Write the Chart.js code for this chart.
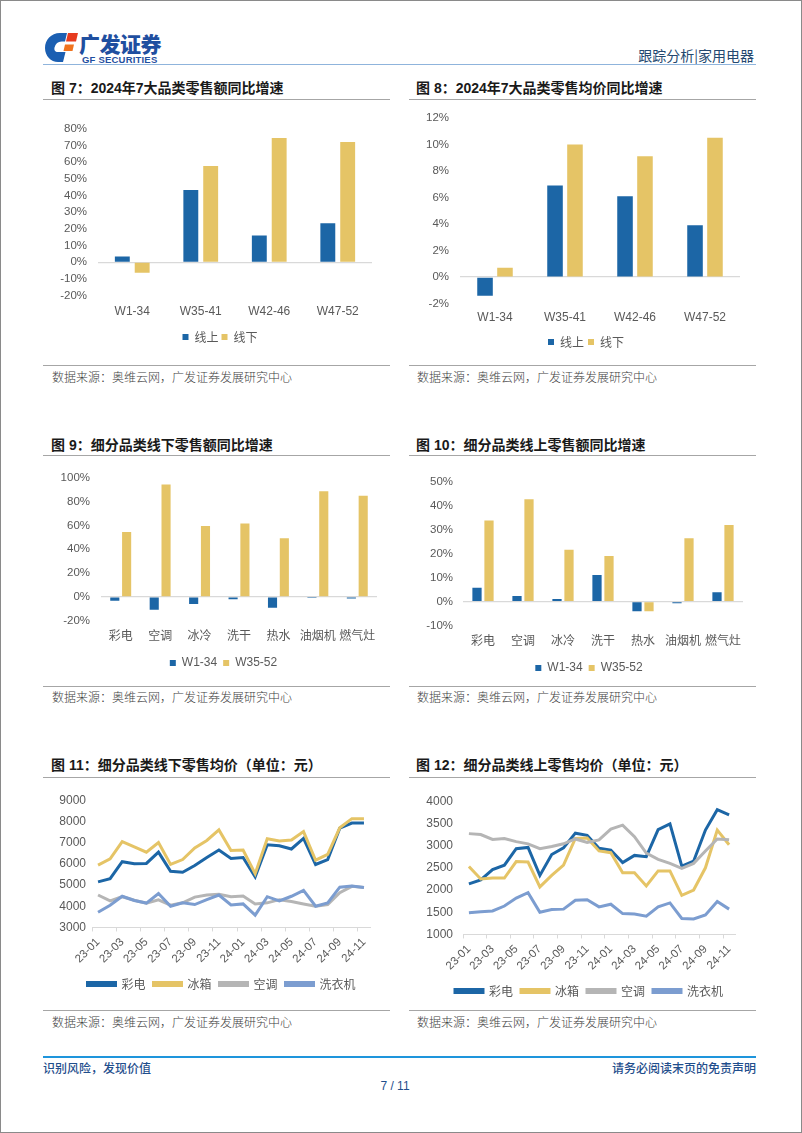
<!DOCTYPE html>
<html><head><meta charset="utf-8">
<script src="https://cdn.jsdelivr.net/npm/chart.js@4.4.1/dist/chart.umd.min.js"></script>
<style>
html,body{margin:0;padding:0;background:#fff;}
body{width:802px;height:1133px;position:relative;overflow:hidden;font-family:"Noto Sans CJK SC","Noto Sans",sans-serif;}
.frame{position:absolute;left:0;top:0;width:800px;height:1131px;border:1px solid #8a8a8a;}
.title{position:absolute;font-size:14px;line-height:20px;font-weight:700;color:#1a1a1a;white-space:nowrap;font-family:"Liberation Sans Narrow","Liberation Sans","Noto Sans CJK SC",sans-serif;}
.hr{position:absolute;height:0;border-top:1.5px solid #a6a6a6;}
.src{position:absolute;font-size:12px;line-height:16px;color:#404040;white-space:nowrap;font-weight:300;}
.box{position:absolute;}
.box canvas{display:block;}
</style></head>
<body>
<div class="frame"></div>

<!-- header -->
<svg style="position:absolute;left:43px;top:31px" width="36" height="33" viewBox="0 0 36 33">
  <path d="M17 2 C8 2 2 9 2 17 C2 25 8 31 15 31 L20 31 L22.5 21 L15 21 C12 21 11 19 11.5 16.5 C12.5 12.5 15 10.5 18.5 10.5 L22 10.5 L24 2 Z" fill="#1b5fb2"/>
  <path d="M25 2 L35 2 L33 10.5 L23 10.5 Z" fill="#e63b1f"/>
  <path d="M22 13.5 L31 13.5 L29.5 20 L20.5 20 Z" fill="#f0731e"/>
</svg>
<div style="position:absolute;left:79px;top:31px;font-size:21px;line-height:25px;font-weight:900;color:#1f4fa0;letter-spacing:-0.5px;">广发证券</div>
<div style="position:absolute;left:82px;top:54px;font-size:9.5px;line-height:11px;font-weight:700;color:#1f4fa0;font-family:'Liberation Sans',sans-serif;letter-spacing:0.2px;">GF SECURITIES</div>
<div style="position:absolute;right:48px;top:45px;font-size:14px;line-height:20px;color:#24486f;">跟踪分析|家用电器</div>
<div class="hr" style="left:43px;top:64px;width:713px;border-top:1px solid #8fb4dc;"></div>

<!-- row 1 -->
<div class="title" style="left:51px;top:78px;">图 7：2024年7大品类零售额同比增速</div>
<div class="title" style="left:416px;top:78px;">图 8：2024年7大品类零售均价同比增速</div>
<div class="hr" style="left:43px;top:99px;width:347px;"></div>
<div class="hr" style="left:409px;top:99px;width:347px;"></div>
<div class="box" style="left:45px;top:111px;width:345px;height:242px;"><canvas id="c7"></canvas></div>
<div class="box" style="left:410px;top:100px;width:345px;height:258px;"><canvas id="c8"></canvas></div>
<div class="hr" style="left:43px;top:365px;width:347px;"></div>
<div class="hr" style="left:409px;top:365px;width:347px;"></div>
<div class="src" style="left:52px;top:369px;">数据来源：奥维云网，广发证券发展研究中心</div>
<div class="src" style="left:417px;top:369px;">数据来源：奥维云网，广发证券发展研究中心</div>

<!-- row 2 -->
<div class="title" style="left:51px;top:435px;">图 9：细分品类线下零售额同比增速</div>
<div class="title" style="left:416px;top:435px;">图 10：细分品类线上零售额同比增速</div>
<div class="hr" style="left:43px;top:455px;width:347px;"></div>
<div class="hr" style="left:409px;top:455px;width:347px;"></div>
<div class="box" style="left:45px;top:460px;width:345px;height:219px;"><canvas id="c9"></canvas></div>
<div class="box" style="left:410px;top:465px;width:345px;height:219px;"><canvas id="c10"></canvas></div>
<div class="hr" style="left:43px;top:686px;width:347px;"></div>
<div class="hr" style="left:409px;top:686px;width:347px;"></div>
<div class="src" style="left:52px;top:689px;">数据来源：奥维云网，广发证券发展研究中心</div>
<div class="src" style="left:417px;top:689px;">数据来源：奥维云网，广发证券发展研究中心</div>

<!-- row 3 -->
<div class="title" style="left:51px;top:755px;">图 11：细分品类线下零售均价（单位：元）</div>
<div class="title" style="left:416px;top:755px;">图 12：细分品类线上零售均价（单位：元）</div>
<div class="hr" style="left:43px;top:777px;width:347px;"></div>
<div class="hr" style="left:409px;top:777px;width:347px;"></div>
<div class="box" style="left:45px;top:787px;width:345px;height:213px;"><canvas id="c11"></canvas></div>
<div class="box" style="left:410px;top:784px;width:345px;height:223px;"><canvas id="c12"></canvas></div>
<div class="hr" style="left:43px;top:1010px;width:347px;"></div>
<div class="hr" style="left:409px;top:1010px;width:347px;"></div>
<div class="src" style="left:52px;top:1014px;">数据来源：奥维云网，广发证券发展研究中心</div>
<div class="src" style="left:417px;top:1014px;">数据来源：奥维云网，广发证券发展研究中心</div>

<!-- footer -->
<div class="hr" style="left:43px;top:1056px;width:713px;border-top:2px solid #1e95dc;"></div>
<div style="position:absolute;left:43px;top:1060px;font-size:12px;line-height:16px;color:#1f4e8c;font-weight:500;">识别风险，发现价值</div>
<div style="position:absolute;right:46px;top:1060px;font-size:12px;line-height:16px;color:#1f4e8c;font-weight:500;">请务必阅读末页的免责声明</div>
<div style="position:absolute;left:370px;width:50px;text-align:center;top:1078px;font-size:12px;line-height:16px;color:#1f4e8c;font-family:'Liberation Sans Narrow','Liberation Sans',sans-serif;">7 / 11</div>

<script>
// ---------------- data ----------------
const weekCats = ['W1-34', 'W35-41', 'W42-46', 'W47-52'];
const fig7Online  = [3.5, 43.3, 16.0, 23.4];
const fig7Offline = [-6.3, 57.7, 74.5, 72.1];
const fig8Online  = [-1.4, 6.9, 6.1, 3.9];
const fig8Offline = [0.7, 10.0, 9.1, 10.5];

const prodCats = ['彩电', '空调', '冰冷', '洗干', '热水', '油烟机', '燃气灶'];
const fig9W1_34   = [-3.4, -10.9, -6.1, -2.0, -9.2, -1.1, -1.4];
const fig9W35_52  = [54.5, 94.4, 59.5, 61.7, 49.2, 88.8, 84.9];
const fig10W1_34  = [5.8, 2.4, 1.1, 11.1, -4.0, -0.7, 3.9];
const fig10W35_52 = [33.9, 42.8, 21.7, 19.1, -4.0, 26.5, 32.0];

const months = ['23-01','23-02','23-03','23-04','23-05','23-06','23-07','23-08','23-09','23-10','23-11','23-12',
                '24-01','24-02','24-03','24-04','24-05','24-06','24-07','24-08','24-09','24-10','24-11'];
const off_TV     = [5150,5300,6100,6000,6020,6550,5650,5600,5920,6300,6650,6250,6300,5380,6900,6850,6700,7200,5970,6200,7680,7920,7920];
const off_Fridge = [5940,6230,7050,6800,6550,7000,5970,6200,6750,7100,7600,6630,6650,5530,7180,7080,7120,7520,6170,6450,7700,8130,8130];
const off_AC     = [4530,4250,4450,4280,4140,4300,4050,4160,4430,4530,4560,4450,4480,4110,4160,4310,4220,4110,4000,4080,4640,4940,4880];
const off_Washer = [3720,4050,4470,4270,4150,4600,4000,4160,4080,4310,4530,4060,4110,3580,4450,4250,4470,4750,4000,4160,4900,4950,4880];

const on_TV     = [2140,2230,2460,2560,2930,2960,2330,2800,2950,3280,3230,2940,2900,2620,2780,2750,3360,3490,2540,2650,3350,3810,3690];
const on_Fridge = [2530,2250,2270,2270,2640,2630,2070,2330,2560,3160,3170,2880,2840,2390,2390,2090,2430,2430,1880,2000,2500,3350,3020];
const on_AC     = [3270,3250,3140,3160,3090,3040,2930,2980,3040,3150,3070,3130,3370,3460,3200,2830,2690,2600,2490,2600,2880,3150,3130];
const on_Washer = [1490,1510,1530,1640,1820,1940,1500,1560,1570,1770,1780,1620,1680,1470,1460,1410,1620,1710,1360,1350,1440,1740,1570];

const lineNames = ['彩电', '冰箱', '空调', '洗衣机'];

// ---------------- style ----------------
const BLUE = '#1c66a6', YELLOW = '#e5c466', GRAY = '#b5b5b5', LBLUE = '#7c9dd0';
const TICK = '#595959';
const LATIN = "'Liberation Sans','Noto Sans CJK SC',sans-serif";
const CJK = "'Noto Sans CJK SC','Liberation Sans',sans-serif";
Chart.defaults.font.family = LATIN;
Chart.defaults.color = TICK;
Chart.defaults.animation = false;

// shifts the legend horizontally after layout (legend centre as in the reference)
function legendShift(dx) {
  return { id: 'legendShift', afterLayout(chart) { if (chart.legend) { chart.legend.left += dx; chart.legend.right += dx; } } };
}

function makeBar(id, cats, a, b, names, c) {
  new Chart(document.getElementById(id), {
    type: 'bar',
    data: {
      labels: cats,
      datasets: [
        { label: names[0], data: a, backgroundColor: BLUE, categoryPercentage: c.catPct, barPercentage: c.barPct },
        { label: names[1], data: b, backgroundColor: YELLOW, categoryPercentage: c.catPct, barPercentage: c.barPct }
      ]
    },
    plugins: [legendShift(c.legDx)],
    options: {
      responsive: true, maintainAspectRatio: false,
      layout: { padding: { top: 8, left: 0, right: c.padR, bottom: 0 } },
      plugins: {
        tooltip: { enabled: false },
        legend: {
          position: 'bottom',
          labels: { boxWidth: 6, boxHeight: 6, padding: c.legPad, color: TICK,
                    font: { size: 12, family: c.legFont } }
        }
      },
      scales: {
        x: {
          grid: { display: false, drawTicks: false },
          border: { display: false },
          ticks: { padding: c.xPad, color: TICK, autoSkip: false, minRotation: 0, maxRotation: 0,
                   font: { size: 12, family: c.catFont } }
        },
        y: {
          min: c.min, max: c.max,
          afterFit: s => { s.width = c.yW; },
          grid: { drawTicks: false, color: ctx => (ctx.tick && ctx.tick.value === 0) ? '#d9d9d9' : 'rgba(0,0,0,0)', lineWidth: 1.2 },
          border: { display: false },
          ticks: { stepSize: c.step, autoSkip: false, padding: c.yPad, color: TICK, font: { size: 11.5 },
                   callback: v => v + '%' }
        }
      }
    }
  });
}

makeBar('c7', weekCats, fig7Online, fig7Offline, ['线上', '线下'],
  { min: -20, max: 80, step: 10, yW: 53, yPad: 11, padR: 18, xPad: 9, legPad: 3, legDx: 11.5, catPct: 0.58, barPct: 0.75, catFont: LATIN, legFont: CJK });
makeBar('c8', weekCats, fig8Online, fig8Offline, ['线上', '线下'],
  { min: -2, max: 12, step: 2, yW: 50, yPad: 11, padR: 15, xPad: 7, legPad: 4, legDx: 11, catPct: 0.57, barPct: 0.78, catFont: LATIN, legFont: CJK });
makeBar('c9', prodCats, fig9W1_34, fig9W35_52, ['W1-34', 'W35-52'],
  { min: -20, max: 100, step: 20, yW: 56, yPad: 11, padR: 13, xPad: 8, legPad: 6, legDx: 12.5, catPct: 0.6, barPct: 0.77, catFont: CJK, legFont: LATIN });
makeBar('c10', prodCats, fig10W1_34, fig10W35_52, ['W1-34', 'W35-52'],
  { min: -10, max: 50, step: 10, yW: 53, yPad: 10, padR: 12, xPad: 8, legPad: 6, legDx: 12.5, catPct: 0.6, barPct: 0.77, catFont: CJK, legFont: LATIN });

function makeLine(id, series, c) {
  const colors = [BLUE, YELLOW, GRAY, LBLUE];
  new Chart(document.getElementById(id), {
    type: 'line',
    data: {
      labels: months,
      datasets: series.map((d, i) => ({
        label: lineNames[i], data: d, borderColor: colors[i], backgroundColor: colors[i],
        borderWidth: 3, pointRadius: 0, tension: 0, fill: false, order: 3 - i
      }))
    },
    plugins: [legendShift(c.legDx)],
    options: {
      responsive: true, maintainAspectRatio: false,
      layout: { padding: { top: 8, left: 0, right: c.padR, bottom: 0 } },
      plugins: {
        tooltip: { enabled: false },
        legend: {
          position: 'bottom',
          labels: { boxWidth: 28, boxHeight: 3, padding: c.legPad, color: TICK,
                    font: { size: 12, family: CJK },
                    sort: (x, y) => x.datasetIndex - y.datasetIndex }
        }
      },
      scales: {
        x: {
          offset: true,
          grid: { display: true, drawOnChartArea: false, drawTicks: true, tickLength: 4, offset: true,
                  color: ctx => (ctx.index % 2 === 0) ? '#d9d9d9' : 'rgba(0,0,0,0)' },
          border: { display: true, color: '#d9d9d9', width: 1 },
          ticks: { autoSkip: false, minRotation: 45, maxRotation: 45, padding: 4, color: TICK, font: { size: 11.5 },
                   callback: (v, i) => (i % 2 === 0) ? months[i] : '' }
        },
        y: {
          min: c.min, max: c.max,
          afterFit: s => { s.width = c.yW; },
          grid: { display: false, drawTicks: false },
          border: { display: false },
          ticks: { stepSize: c.step, autoSkip: false, padding: c.yPad, color: TICK, font: { size: 12 },
                   callback: v => String(v) }
        }
      }
    }
  });
}

makeLine('c11', [off_TV, off_Fridge, off_AC, off_Washer], { min: 3000, max: 9000, step: 1000, yW: 47, yPad: 6, padR: 20, legPad: 8, legDx: 14 });
makeLine('c12', [on_TV, on_Fridge, on_AC, on_Washer], { min: 1000, max: 4000, step: 500, yW: 53, yPad: 10, padR: 20, legPad: 8, legDx: 16.5 });
</script>
</body></html>
